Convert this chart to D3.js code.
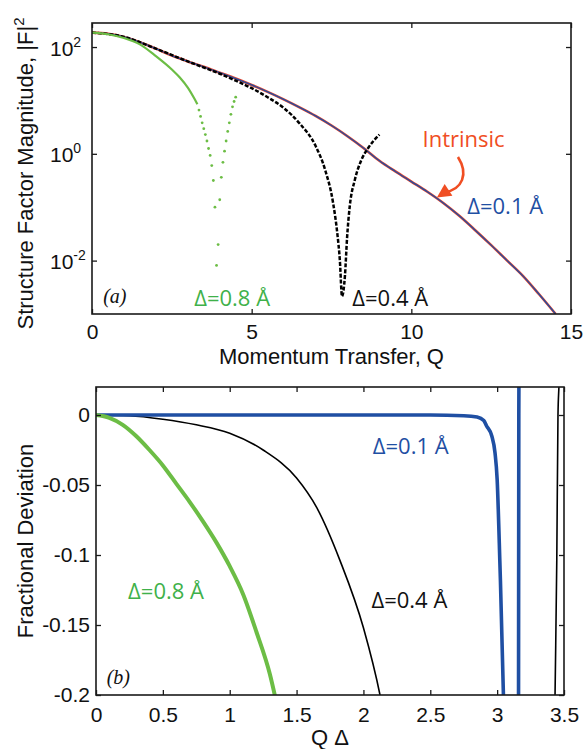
<!DOCTYPE html>
<html><head><meta charset="utf-8">
<script src="https://cdn.jsdelivr.net/npm/d3@7"></script>
<style>body{margin:0;background:#fff} svg{display:block}</style>
</head><body>
<svg id="c" width="584" height="749"></svg>
<script>
// ---------- DATA ----------
// Panel (a): Q values and log10 |F|^2
const intrinsicQ   = [0,0.5,1,1.5,2,2.5,3,3.5,4,4.5,5,5.5,6,6.5,7,7.5,8,8.5,9,9.5,10,10.5,11,11.5,12,12.5,13,13.5,14,14.52];
const intrinsicLog = [2.27,2.25,2.19,2.09,1.97,1.84,1.73,1.63,1.52,1.41,1.29,1.16,1.02,0.87,0.71,0.53,0.33,0.11,-0.13,-0.33,-0.52,-0.71,-0.92,-1.16,-1.43,-1.71,-2.00,-2.29,-2.63,-3.0];
const d01TopQ   = [0,0.5,1,1.5,2,2.5,3,3.5,4,4.5,5,5.5,6,6.5,7,7.5,8,8.5,9,9.5,10,10.5,11,11.5,12,12.5,13,13.5,14,14.52];
const d01TopLog = [2.27,2.25,2.19,2.09,1.97,1.84,1.73,1.63,1.52,1.41,1.29,1.16,1.02,0.87,0.71,0.53,0.33,0.11,-0.13,-0.33,-0.52,-0.71,-0.92,-1.16,-1.43,-1.71,-2.00,-2.29,-2.63,-3.0];
const d04TopQ   = [0,1,2,3,4,4.5,5,5.5,6,6.5,7,7.3,7.55,7.68,7.76,7.83,7.92,7.99,8.07,8.23,8.44,8.65,9.0];
const d04TopLog = [2.27,2.19,1.97,1.73,1.50,1.37,1.23,1.06,0.86,0.57,0.15,-0.30,-0.92,-1.48,-1.98,-2.67,-2.29,-1.55,-0.99,-0.49,-0.11,0.11,0.36];
const d08LineQ   = [0,0.5,1,1.5,2,2.5,2.75,3,3.2,3.3];
const d08LineLog = [2.27,2.24,2.17,2.05,1.83,1.58,1.43,1.24,1.04,0.93];
const d08DotQ   = [3.35,3.40,3.45,3.50,3.55,3.60,3.65,3.70,3.75,3.80,3.85,3.90,3.95,4.00,4.05,4.10,4.15,4.20,4.25,4.30,4.35,4.40,4.45,4.50];
const d08DotLog = [0.82,0.70,0.58,0.47,0.36,0.24,0.10,-0.03,-0.22,-0.50,-1.00,-2.09,-1.70,-0.86,-0.44,-0.16,0.05,0.24,0.42,0.58,0.74,0.88,0.98,1.06];
const topXTicks = [0,5,10,15];
const topYTickExp = [2,0,-2];

// Panel (b): Q*Delta and fractional deviation
const d01DevX = [0,0.5,1,1.5,2,2.5,2.75,2.85,2.9,2.92,2.96,2.984,3.0,3.02,3.047,3.08,3.1416,3.158,3.16,3.162,3.164];
const d01DevY = [0,0,0,0,0,0,-0.0005,-0.0015,-0.004,-0.0077,-0.015,-0.027,-0.046,-0.104,-0.2,-0.4,-1,-0.3,-0.2,0,0.05];
const d04DevX = [0,0.25,0.5,0.75,1.0,1.25,1.5,1.65,1.825,2.0,2.124,2.2,2.8,3.1416,3.40,3.433,3.446,3.455,3.462,3.47];
const d04DevY = [0,-0.0005,-0.003,-0.007,-0.013,-0.025,-0.045,-0.066,-0.104,-0.152,-0.2,-0.24,-0.6,-1,-0.5,-0.2,-0.104,0,0.02,0.04];
const d08DevX = [0,0.1,0.2,0.3,0.4,0.5,0.6,0.7,0.8,0.9,1.0,1.1,1.2,1.3,1.36];
const d08DevY = [0,-0.002,-0.007,-0.015,-0.025,-0.036,-0.049,-0.062,-0.076,-0.091,-0.108,-0.128,-0.155,-0.185,-0.21];
const botXTicks = [0,0.5,1,1.5,2,2.5,3,3.5];
const botYTicks = [0,-0.05,-0.1,-0.15,-0.2];
const botYTickLabels = ["0","-0.05","-0.1","-0.15","-0.2"];
const botXTickLabels = ["0","0.5","1","1.5","2","2.5","3","3.5"];

// ---------- STYLE ----------
const C = {green:"#6cbd45", greenText:"#3fb14a", blue:"#1f4fa3", red:"#e8452c", redText:"#f04e23", black:"#000", axis:"#1a1a1a"};
const AX_FONT = "'Liberation Sans', Arial, sans-serif";
const ANN_FONT = "'Open Sans', sans-serif";

const svg = d3.select("#c");
svg.append("rect").attr("width",584).attr("height",749).attr("fill","#fff");

const zip = (xs, ys) => xs.map((x,i)=>[x, ys[i]]);

// ================= PANEL (a) =================
const A = {l:92, r:571, t:23, b:314};
const xa = d3.scaleLinear().domain([0,15]).range([A.l,A.r]);
const ya = d3.scaleLog().domain([1e-3, Math.pow(10,2.45)]).range([A.b,A.t]);

svg.append("clipPath").attr("id","clipA").append("rect")
  .attr("x",A.l).attr("y",A.t).attr("width",A.r-A.l).attr("height",A.b-A.t);
const gA = svg.append("g").attr("clip-path","url(#clipA)");
const lineA = d3.line().x(d=>xa(d[0])).y(d=>ya(Math.pow(10,d[1]))).curve(d3.curveMonotoneX);

gA.append("path").datum(zip(intrinsicQ,intrinsicLog)).attr("d",lineA)
  .attr("fill","none").attr("stroke",C.red).attr("stroke-width",2.6);
gA.append("path").datum(zip(d01TopQ,d01TopLog)).attr("d",lineA)
  .attr("fill","none").attr("stroke",C.blue).attr("stroke-width",1.3);
gA.append("path").datum(zip(d04TopQ,d04TopLog)).attr("d",lineA)
  .attr("fill","none").attr("stroke",C.black).attr("stroke-width",2.5).attr("stroke-dasharray","4,1.8");
gA.append("path").datum(zip(d08LineQ,d08LineLog)).attr("d",lineA)
  .attr("fill","none").attr("stroke",C.green).attr("stroke-width",2.2);
gA.selectAll("circle.g8").data(zip(d08DotQ,d08DotLog)).join("circle").attr("class","g8")
  .attr("cx",d=>xa(d[0])).attr("cy",d=>ya(Math.pow(10,d[1]))).attr("r",1.4).attr("fill",C.green);

// axes (inward ticks)
function styleAxis(g){
  g.select(".domain").remove();
  g.selectAll(".tick line").attr("stroke",C.axis).attr("stroke-width",1.3);
  g.selectAll("text").attr("font-family",AX_FONT).attr("font-size",21).attr("fill","#111");
}
svg.append("g").attr("transform",`translate(0,${A.b})`)
  .call(d3.axisBottom(xa).tickValues(topXTicks).tickSizeInner(-5).tickSizeOuter(0).tickPadding(10).tickFormat(d3.format("d")))
  .call(styleAxis);
svg.append("g").attr("transform",`translate(0,${A.t})`)
  .call(d3.axisTop(xa).tickValues(topXTicks).tickSizeInner(-5).tickSizeOuter(0).tickFormat(""))
  .call(styleAxis);
const yTickVals = topYTickExp.map(e=>Math.pow(10,e));
const gyA = svg.append("g").attr("transform",`translate(${A.l},0)`)
  .call(d3.axisLeft(ya).tickValues(yTickVals).tickSizeInner(-5).tickSizeOuter(0).tickFormat(""))
  .call(styleAxis);
gyA.selectAll(".tick").each(function(d,i){
  const t = d3.select(this).append("text").attr("x",-42).attr("y",8)
    .attr("text-anchor","start").attr("font-family",AX_FONT).attr("font-size",21).attr("fill","#111");
  t.append("tspan").text("10");
  t.append("tspan").attr("dy",-9).attr("font-size",14).text(String(topYTickExp[i]));
});
svg.append("g").attr("transform",`translate(${A.r},0)`)
  .call(d3.axisRight(ya).tickValues(yTickVals).tickSizeInner(-5).tickSizeOuter(0).tickFormat(""))
  .call(styleAxis);
svg.append("rect").attr("x",A.l).attr("y",A.t).attr("width",A.r-A.l).attr("height",A.b-A.t)
  .attr("fill","none").attr("stroke",C.axis).attr("stroke-width",1.6);

// titles
svg.append("text").attr("x",(A.l+A.r)/2).attr("y",364).attr("text-anchor","middle")
  .attr("font-family",AX_FONT).attr("font-size",22).attr("fill","#111").text("Momentum Transfer, Q");
const ytA = svg.append("text").attr("transform",`translate(33,${(A.t+A.b)/2+5}) rotate(-90)`).attr("text-anchor","middle")
  .attr("font-family",AX_FONT).attr("font-size",22).attr("fill","#111");
ytA.append("tspan").text("Structure Factor Magnitude, |F|");
ytA.append("tspan").attr("dy",-9).attr("font-size",15).text("2");

// annotations (a)
svg.append("text").attr("x",xa(0.35)).attr("y",303).attr("font-family","'Liberation Serif', 'Times New Roman', serif")
  .attr("font-style","italic").attr("font-size",20).attr("fill","#111").text("(a)");
svg.append("text").attr("x",xa(3.2)).attr("y",ya(Math.pow(10,-2.85))).attr("font-family",ANN_FONT)
  .attr("font-size",22).attr("fill",C.greenText).text("Δ=0.8 Å");
svg.append("text").attr("x",xa(8.15)).attr("y",ya(Math.pow(10,-2.85))).attr("font-family",ANN_FONT)
  .attr("font-size",22).attr("fill","#111").text("Δ=0.4 Å");
svg.append("text").attr("x",xa(10.35)).attr("y",ya(Math.pow(10,0.12))).attr("font-family",ANN_FONT)
  .attr("font-size",22).attr("fill",C.redText).text("Intrinsic");
svg.append("text").attr("x",xa(11.75)).attr("y",ya(Math.pow(10,-1.12))).attr("font-family",ANN_FONT)
  .attr("font-size",22).attr("fill",C.blue).text("Δ=0.1 Å");
// arrow
const P = (q,e)=>[xa(q), ya(Math.pow(10,e))];
const s = P(11.46,-0.06), c1 = P(11.8,-0.38), c2 = P(11.6,-0.66), e = P(11.05,-0.72);
svg.append("path").attr("d",`M${s[0]},${s[1]} C${c1[0]},${c1[1]} ${c2[0]},${c2[1]} ${e[0]},${e[1]}`)
  .attr("fill","none").attr("stroke",C.redText).attr("stroke-width",2.6);
const tip = P(10.8,-0.82);
const ang = Math.atan2(tip[1]-e[1], tip[0]-e[0]);
const hl = 14, hw = 7;
const bx = tip[0]-hl*Math.cos(ang), by = tip[1]-hl*Math.sin(ang);
svg.append("path").attr("d",`M${tip[0]},${tip[1]} L${bx+hw*Math.sin(ang)},${by-hw*Math.cos(ang)} L${bx-hw*Math.sin(ang)},${by+hw*Math.cos(ang)} Z`)
  .attr("fill",C.redText);

// ================= PANEL (b) =================
const B = {l:96, r:564, t:387, b:695};
const xb = d3.scaleLinear().domain([0,3.5]).range([B.l,B.r]);
const yb = d3.scaleLinear().domain([-0.2,0.02]).range([B.b,B.t]);
svg.append("clipPath").attr("id","clipB").append("rect")
  .attr("x",B.l).attr("y",B.t).attr("width",B.r-B.l).attr("height",B.b-B.t);
const gB = svg.append("g").attr("clip-path","url(#clipB)");
const lineB = d3.line().x(d=>xb(d[0])).y(d=>yb(d[1])).curve(d3.curveMonotoneX);
gB.append("path").datum(zip(d04DevX,d04DevY)).attr("d",lineB)
  .attr("fill","none").attr("stroke",C.black).attr("stroke-width",1.6);
gB.append("path").datum(zip(d01DevX,d01DevY)).attr("d",lineB)
  .attr("fill","none").attr("stroke",C.blue).attr("stroke-width",3.6);
gB.append("path").datum(zip(d08DevX,d08DevY)).attr("d",lineB)
  .attr("fill","none").attr("stroke",C.green).attr("stroke-width",4);

svg.append("g").attr("transform",`translate(0,${B.b})`)
  .call(d3.axisBottom(xb).tickValues(botXTicks).tickSizeInner(-5).tickSizeOuter(0).tickPadding(12).tickFormat((d,i)=>botXTickLabels[i]))
  .call(styleAxis);
svg.append("g").attr("transform",`translate(0,${B.t})`)
  .call(d3.axisTop(xb).tickValues(botXTicks).tickSizeInner(-5).tickSizeOuter(0).tickFormat(""))
  .call(styleAxis);
svg.append("g").attr("transform",`translate(${B.l},0)`)
  .call(d3.axisLeft(yb).tickValues(botYTicks).tickSizeInner(-5).tickSizeOuter(0).tickPadding(6).tickFormat((d,i)=>botYTickLabels[i]))
  .call(styleAxis);
svg.append("g").attr("transform",`translate(${B.r},0)`)
  .call(d3.axisRight(yb).tickValues(botYTicks).tickSizeInner(-5).tickSizeOuter(0).tickFormat(""))
  .call(styleAxis);
svg.append("rect").attr("x",B.l).attr("y",B.t).attr("width",B.r-B.l).attr("height",B.b-B.t)
  .attr("fill","none").attr("stroke",C.axis).attr("stroke-width",1.6);

svg.append("text").attr("x",(B.l+B.r)/2).attr("y",745).attr("text-anchor","middle")
  .attr("font-family",AX_FONT).attr("font-size",22).attr("fill","#111").text("Q Δ");
svg.append("text").attr("transform",`translate(33,${(B.t+B.b)/2}) rotate(-90)`).attr("text-anchor","middle")
  .attr("font-family",AX_FONT).attr("font-size",22).attr("fill","#111").text("Fractional Deviation");

svg.append("text").attr("x",xb(0.08)).attr("y",684).attr("font-family","'Liberation Serif', 'Times New Roman', serif")
  .attr("font-style","italic").attr("font-size",20).attr("fill","#111").text("(b)");
svg.append("text").attr("x",xb(0.24)).attr("y",yb(-0.1316)).attr("font-family",ANN_FONT)
  .attr("font-size",22).attr("fill",C.greenText).text("Δ=0.8 Å");
svg.append("text").attr("x",xb(2.06)).attr("y",yb(-0.1378)).attr("font-family",ANN_FONT)
  .attr("font-size",22).attr("fill","#111").text("Δ=0.4 Å");
svg.append("text").attr("x",xb(2.07)).attr("y",yb(-0.0281)).attr("font-family",ANN_FONT)
  .attr("font-size",22).attr("fill",C.blue).text("Δ=0.1 Å");
</script>
</body></html>
